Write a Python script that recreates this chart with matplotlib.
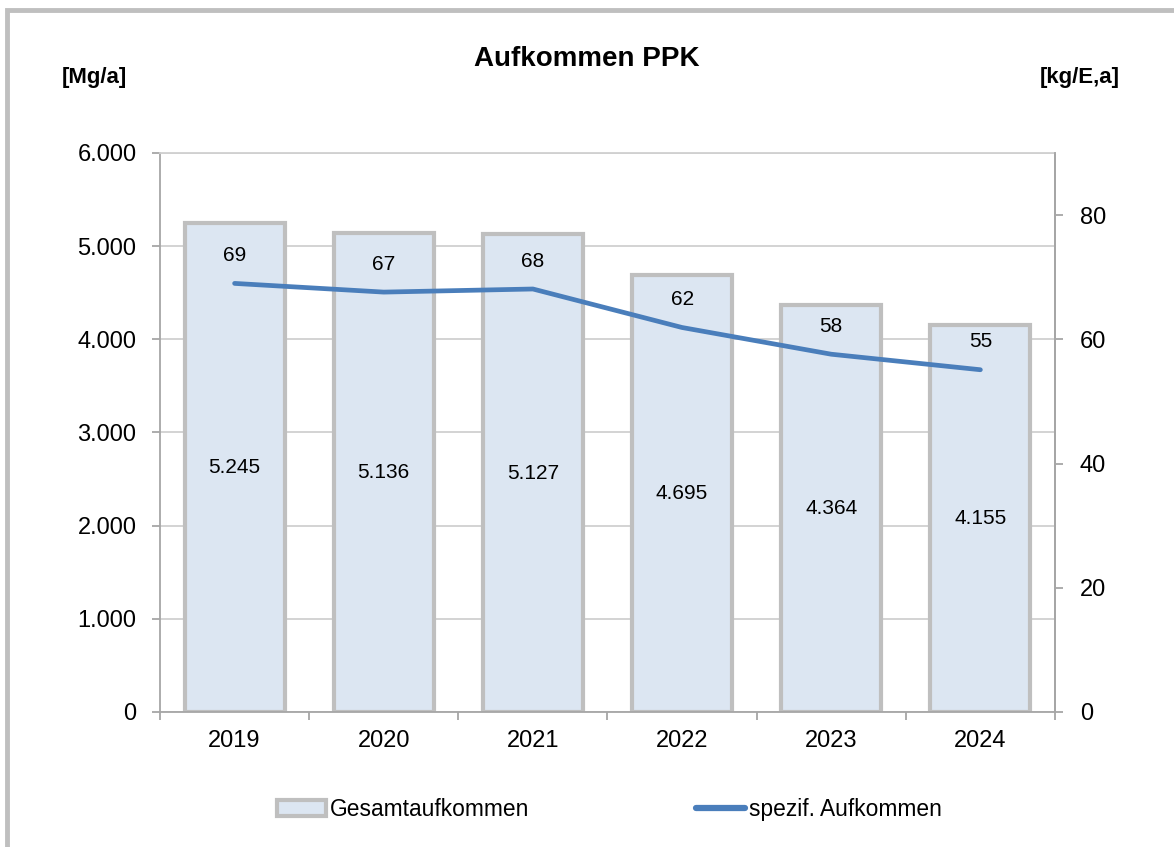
import matplotlib
matplotlib.use('Agg')
import matplotlib.pyplot as plt
from matplotlib.patches import Rectangle
from matplotlib.lines import Line2D
from matplotlib.patches import Patch
from matplotlib.ticker import FuncFormatter

plt.rcParams['font.family'] = ['Liberation Sans', 'DejaVu Sans']

# Daten
years = ['2019', '2020', '2021', '2022', '2023', '2024']
gesamt = [5245, 5136, 5127, 4695, 4364, 4155]          # Mg/a
spezif = [69.0, 67.6, 68.1, 61.9, 57.6, 55.1]          # kg/E,a
spezif_labels = ['69', '67', '68', '62', '58', '55']

bar_fill = '#dce6f2'
bar_edge = '#bfbfbf'
line_col = '#4a7ebb'
grid_col = '#d0d0d0'
axis_col = '#a6a6a6'

fig = plt.figure(figsize=(11.74, 8.47), dpi=100)

# outer frame of the chart area (left and top edge visible)
fig.patches.append(Rectangle((0.006, -0.2), 1.2, 1.188, transform=fig.transFigure,
                             fill=False, edgecolor='#bfbfbf', linewidth=3.5, zorder=0))

ax = fig.add_axes([0.1363, 0.1594, 0.7623, 0.66])
ax2 = ax.twinx()

x = list(range(len(years)))
ax.bar(x, gesamt, width=0.67, color=bar_fill, edgecolor=bar_edge, linewidth=3, zorder=2)
ax.set_ylim(0, 6000)
ax.set_xlim(-0.5, len(years) - 0.5)
ax.set_yticks(range(0, 6001, 1000))
ax.yaxis.set_major_formatter(FuncFormatter(lambda v, p: f'{int(v):,}'.replace(',', '.')))
ax.grid(axis='y', color=grid_col, linewidth=1.3, zorder=0)
ax.set_axisbelow(True)

# x ticks between categories, labels at centres
ax.set_xticks([i - 0.5 for i in range(len(years) + 1)])
ax.set_xticklabels([])
ax.set_xticks(x, minor=True)
ax.set_xticklabels(years, minor=True)
ax.tick_params(axis='x', which='minor', length=0, pad=13, labelsize=17)
ax.tick_params(axis='x', which='major', length=6, color=axis_col, width=1.3)
ax.tick_params(axis='y', length=6, color=axis_col, width=1.3, labelsize=17, pad=11)

for s in ['left', 'bottom', 'right']:
    ax.spines[s].set_color(axis_col)
    ax.spines[s].set_linewidth(1.3)
ax.spines['top'].set_color(grid_col)
ax.spines['top'].set_linewidth(1.3)

# bar labels in the middle of the bars
for xi, v in zip(x, gesamt):
    ax.text(xi, v / 2, f'{v:,}'.replace(',', '.'), ha='center', va='center', fontsize=15, zorder=5)

# spezifisches Aufkommen
ax2.plot(x, spezif, color=line_col, linewidth=3.4, solid_capstyle='round', zorder=4)
ax2.set_ylim(0, 90)
ax2.set_yticks(range(0, 81, 20))
ax2.tick_params(axis='y', length=6, color=axis_col, width=1.3, labelsize=17, pad=12)
for s in ax2.spines.values():
    s.set_visible(False)
ax2.spines['right'].set_visible(True)
ax2.spines['right'].set_color(axis_col)
ax2.spines['right'].set_linewidth(1.3)
for xi, v, lab in zip(x, spezif, spezif_labels):
    ax2.annotate(lab, (xi, v), xytext=(0, 20), textcoords='offset points',
                 ha='center', va='center', fontsize=15)

fig.text(0.5, 0.930, 'Aufkommen PPK', ha='center', va='center', fontsize=20, fontweight='bold')
fig.text(0.0805, 0.909, '[Mg/a]', ha='center', va='center', fontsize=16, fontweight='bold')
fig.text(0.92, 0.909, '[kg/E,a]', ha='center', va='center', fontsize=16, fontweight='bold')

handles = [Patch(facecolor=bar_fill, edgecolor=bar_edge, linewidth=3),
           Line2D([0], [0], color=line_col, linewidth=4.5, solid_capstyle='round')]
fig.legend(handles, ['Gesamtaufkommen', 'spezif. Aufkommen'], loc='center left',
           bbox_to_anchor=(277 / 1174, 1 - 809 / 847), ncol=2, frameon=False, fontsize=16.4,
           handlelength=2.15, handleheight=0.7, handletextpad=0.18, columnspacing=7.3,
           borderpad=0, borderaxespad=0)

fig.savefig('out.png', dpi=100)
